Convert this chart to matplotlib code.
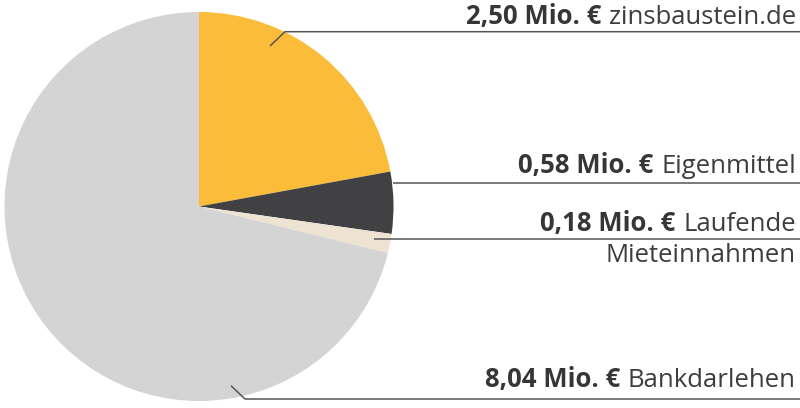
import matplotlib
matplotlib.use("Agg")
import matplotlib.pyplot as plt

# data
werte = [2.50, 0.58, 0.18, 8.04]
betrag = ["2,50 Mio. €", "0,58 Mio. €", "0,18 Mio. €", "8,04 Mio. €"]
namen = ["zinsbaustein.de", "Eigenmittel", "Laufende\nMieteinnahmen", "Bankdarlehen"]
farben = ["#FBBD39", "#414143", "#EEE3D2", "#D4D4D4"]

W, H = 800, 408
fig = plt.figure(figsize=(W / 100, H / 100), dpi=100)
ax = fig.add_axes([0, 0, 1, 1])

# pie, centre/radius in pixel coords (y from bottom)
ax.pie(werte, colors=farben, startangle=90, counterclock=False,
       center=(199, H - 206.5), radius=194.5, frame=True,
       wedgeprops=dict(linewidth=0))
ax.set_xlim(0, W)
ax.set_ylim(0, H)
ax.set_aspect("equal")
ax.axis("off")

# leader lines (image coords: x, y from top)
leader = [
    [(270, 46), (285, 31.7), (800, 31.7)],
    [(393, 182.7), (800, 182.7)],
    [(374, 239), (800, 239)],
    [(231, 385.7), (245, 399), (800, 399)],
]
for pts in leader:
    xs = [p[0] for p in pts]
    ys = [H - p[1] for p in pts]
    ax.plot(xs, ys, color="#555555", lw=1.1, solid_capstyle="butt")

# labels: baseline of first line (image y)
basis = [24.3, 173, 230.7, 386.7]
zeilenabstand = 31
fs = 18.5
schrift = "Open Sans"
x_rechts = 796
r = fig.canvas.get_renderer()
for b, n, y0 in zip(betrag, namen, basis):
    zeilen = n.split("\n")
    # first line: bold amount + regular name
    t = ax.text(x_rechts, H - y0, zeilen[0], ha="right", va="baseline",
                fontsize=fs, family=schrift, weight="normal", color="#3d3d3d")
    bb = t.get_window_extent(renderer=r)
    ax.text(bb.x0 - 8, H - y0, b, ha="right", va="baseline",
            fontsize=fs, family=schrift, weight="bold", color="#363636")
    for k, z in enumerate(zeilen[1:], start=1):
        ax.text(x_rechts, H - y0 - k * zeilenabstand, z, ha="right",
                va="baseline", fontsize=fs, family=schrift, weight="normal",
                color="#3d3d3d")

fig.savefig("out.png", dpi=100)
